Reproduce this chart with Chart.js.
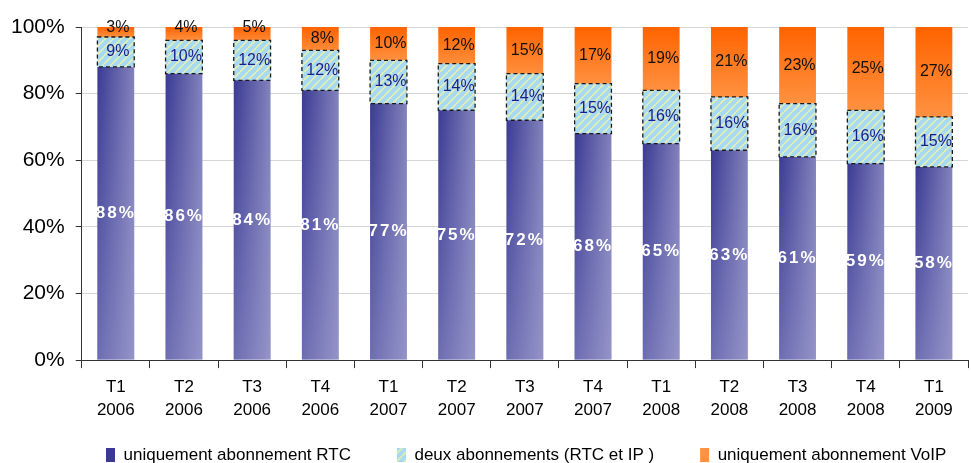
<!DOCTYPE html>
<html>
<head>
<meta charset="utf-8">
<script src="https://cdn.jsdelivr.net/npm/chart.js@4.4.1/dist/chart.umd.min.js"></script>
<style>
  html, body { margin: 0; padding: 0; background: #fff; }
  #wrap { width: 971px; height: 463px; }
</style>
</head>
<body>
<div id="wrap"><canvas id="chart"></canvas></div>
<script>
const quarters = ['T1', 'T2', 'T3', 'T4', 'T1', 'T2', 'T3', 'T4', 'T1', 'T2', 'T3', 'T4', 'T1'];
const years = ['2006', '2006', '2006', '2006', '2007', '2007', '2007', '2007', '2008', '2008', '2008', '2008', '2009'];
const rtcOnly = [88, 86, 84, 81, 77, 75, 72, 68, 65, 63, 61, 59, 58];
const both = [9, 10, 12, 12, 13, 14, 14, 15, 16, 16, 16, 16, 15];
const voipOnly = [3, 4, 5, 8, 10, 12, 15, 17, 19, 21, 23, 25, 27];
const yTicks = [0, 20, 40, 60, 80, 100];

const labels = quarters.map((q, i) => [q, years[i]]);
const BAR_PCT = 0.54;
const FONT = '"Liberation Sans", Arial, sans-serif';
const LEGEND_PAD = 46;
const LEGEND_FONT = 17;

// hatched fill for the middle series
function makeHatch() {
  const c = document.createElement('canvas');
  c.width = 8; c.height = 8;
  const g = c.getContext('2d');
  g.fillStyle = '#a6d9f4';
  g.fillRect(0, 0, 8, 8);
  g.strokeStyle = '#e4efb0';
  g.lineWidth = 1.6;
  for (let k = -8; k <= 16; k += 8) {
    g.beginPath(); g.moveTo(k, 8); g.lineTo(k + 8, 0); g.stroke();
  }
  return g.createPattern(c, 'repeat');
}
const hatch = makeHatch();

function barBox(ctx) {
  const chart = ctx.chart;
  const xs = chart.scales.x;
  const ys = chart.scales.y;
  if (!xs || !ys || ctx.dataIndex === undefined) return null;
  const cx = xs.getPixelForValue(ctx.dataIndex);
  const w = (xs.width / labels.length) * BAR_PCT;
  if (!isFinite(cx) || !isFinite(w) || !isFinite(ys.top) || !isFinite(ys.bottom) || w <= 0) return null;
  return { left: cx - w / 2, right: cx + w / 2, top: ys.top, ys };
}

function rtcFill(ctx) {
  const b = barBox(ctx);
  if (!b) return '#5656a6';
  const g = ctx.chart.ctx.createLinearGradient(b.left, 0, b.right, 0);
  g.addColorStop(0, '#3a3a94');
  g.addColorStop(1, '#8282bc');
  return g;
}

function voipFill(ctx) {
  const b = barBox(ctx);
  if (!b) return '#ff7a20';
  const bottom = b.ys.getPixelForValue(100 - voipOnly[ctx.dataIndex]);
  if (!isFinite(bottom)) return '#ff7a20';
  const g = ctx.chart.ctx.createLinearGradient(0, b.top, 0, Math.max(bottom, b.top + 10));
  g.addColorStop(0, '#ff6300');
  g.addColorStop(1, '#ff9140');
  return g;
}

// the legend sits lower and further right than Chart.js puts it, with wide gaps
const legendShift = {
  id: 'legendShift',
  beforeLayout(chart) {
    const lg = chart.legend;
    if (!lg || lg._shifted) return;
    lg._shifted = true;
    const fit = lg.fit;
    lg.fit = function () { fit.call(this); this.height = 33; };
    const draw = lg.draw;
    lg.draw = function () {
      const c = this.ctx;
      const first = this.legendHitBoxes && this.legendHitBoxes[0];
      const dx = first ? 106 - first.left : 0;
      const saved = { top: this.top, bottom: this.bottom, height: this.height };
      this.top = (this.chart.height - 8) - LEGEND_PAD - LEGEND_FONT / 2;
      this.bottom = this.chart.height + LEGEND_PAD;
      this.height = this.bottom - this.top;
      c.save();
      c.translate(dx, 0);
      draw.call(this);
      c.restore();
      Object.assign(this, saved);
    };
  }
};

// vertical lightening on the RTC bars + dashed border + value labels
const decorPlugin = {
  id: 'decor',
  afterDatasetsDraw(chart) {
    const c = chart.ctx;
    const ys = chart.scales.y;
    const area = chart.chartArea;
    c.save();
    c.beginPath();
    c.rect(area.left, area.top, area.width, area.height);
    c.clip();

    chart.getDatasetMeta(0).data.forEach((el) => {
      const g = c.createLinearGradient(0, el.y, 0, el.base);
      g.addColorStop(0, 'rgba(170,170,215,0)');
      g.addColorStop(1, 'rgba(170,170,215,0.45)');
      c.fillStyle = g;
      c.fillRect(el.x - el.width / 2, el.y, el.width, el.base - el.y);
    });

    c.setLineDash([4, 3]);
    c.strokeStyle = '#1a1a1a';
    c.lineWidth = 1.3;
    chart.getDatasetMeta(1).data.forEach((el) => {
      c.strokeRect(el.x - el.width / 2, el.y, el.width, el.base - el.y);
    });
    c.setLineDash([]);
    c.restore();

    c.save();
    c.textAlign = 'center';
    c.textBaseline = 'middle';
    const sets = [
      { vals: rtcOnly, meta: 0, color: '#ffffff', font: 'bold 17px ' + FONT, spacing: '2px', dx: 0 },
      { vals: both, meta: 1, color: '#1c1c8a', font: '16px ' + FONT, spacing: '0px', dx: 2 },
      { vals: voipOnly, meta: 2, color: '#111111', font: '16px ' + FONT, spacing: '0px', dx: 2 }
    ];
    sets.forEach((s) => {
      c.fillStyle = s.color;
      c.font = s.font;
      c.letterSpacing = s.spacing;
      chart.getDatasetMeta(s.meta).data.forEach((el, i) => {
        const top = Math.max(el.y, ys.top);
        let y = (top + el.base) / 2;
        if (s.meta === 2 && el.base - top < 16) y = top + 1;
        c.fillText(s.vals[i] + '%', el.x + s.dx, y);
      });
    });
    c.restore();
  }
};

const common = {
  categoryPercentage: 1,
  barPercentage: BAR_PCT,
  borderWidth: 0,
  borderSkipped: false
};

new Chart(document.getElementById('chart'), {
  type: 'bar',
  data: {
    labels,
    datasets: [
      { label: 'uniquement abonnement RTC', data: rtcOnly, backgroundColor: rtcFill, ...common },
      { label: 'deux abonnements (RTC et IP )', data: both, backgroundColor: hatch, ...common },
      { label: 'uniquement abonnement VoIP', data: voipOnly, backgroundColor: voipFill, ...common }
    ]
  },
  options: {
    responsive: true, maintainAspectRatio: false,
    animation: false,
    layout: { padding: { top: 27, right: 3, left: 0, bottom: 0 } },
    plugins: {
      legend: {
        position: 'bottom',
        labels: {
          font: { family: FONT, size: LEGEND_FONT },
          color: '#000',
          boxWidth: 9,
          boxHeight: 14,
          padding: LEGEND_PAD
        }
      },
      tooltip: { enabled: false }
    },
    scales: {
      x: {
        stacked: true,
        grid: { offset: true, drawOnChartArea: false, color: '#333', tickLength: 8 },
        border: { color: '#333', width: 1 },
        ticks: { font: { family: FONT, size: 17, lineHeight: 1.35 }, color: '#000', padding: 8, maxRotation: 0 }
      },
      y: {
        stacked: true,
        min: 0, max: 100,
        afterBuildTicks: (axis) => { axis.ticks = yTicks.map((v) => ({ value: v })); },
        grid: { color: '#d6d6d6', tickColor: '#333', tickLength: 6 },
        border: { color: '#333', width: 1 },
        ticks: { font: { family: FONT, size: 21 }, color: '#000', padding: 11, callback: (v) => v + '%' }
      }
    }
  },
  plugins: [legendShift, decorPlugin]
});
</script>
</body>
</html>
